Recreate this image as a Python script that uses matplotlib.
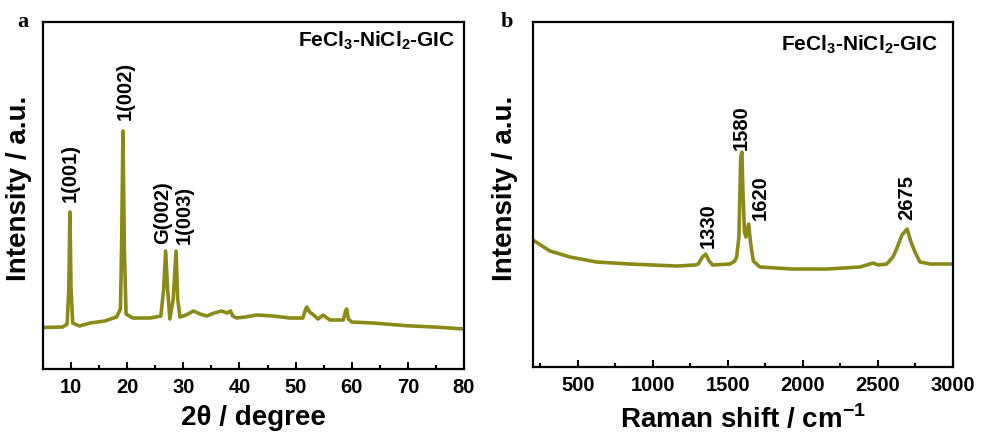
import numpy as np
import matplotlib
matplotlib.use("Agg")
import matplotlib.pyplot as plt
from matplotlib.ticker import MultipleLocator, NullLocator

# XRD pattern (panel a), a.u.
xrd_2theta = [5.0, 8.5, 9.3, 9.6, 9.8, 10.0, 10.3, 11.5, 13.4, 16.0, 18.1, 18.8, 19.0, 19.25,
              19.5, 19.8, 21.0, 24.1, 26.0, 26.5, 26.85, 27.2, 27.6, 28.2, 28.7, 29.0, 29.4,
              30.5, 31.8, 33.0, 34.2, 35.5, 36.8, 37.8, 38.4, 38.8, 39.5, 41.0, 43.1, 46.0,
              49.0, 51.3, 51.8, 52.0, 52.5, 53.0, 54.0, 54.9, 56.1, 58.5, 58.9, 59.1, 59.4,
              60.0, 63.8, 69.8, 75.7, 80.0]
xrd_int = [41.5, 42, 45, 80, 157, 80, 46, 43, 46, 48, 52, 60, 120, 238,
           120, 55, 51, 51, 53, 80, 118, 80, 50, 70, 118, 70, 52,
           54, 58, 55, 53, 56, 58, 56, 58, 53, 51, 52, 54, 53,
           51, 51, 60, 62, 57, 55, 50, 54, 49, 49, 58, 60, 50,
           47, 46, 43.3, 41.7, 40]
xrd_labels = ["1(001)", "1(002)", "G(002)", "1(003)"]

# Raman spectrum (panel b), a.u.
raman_shift = [200, 313, 447, 624, 847, 1158, 1280, 1302, 1330, 1351, 1375, 1398, 1513,
               1545, 1558, 1573, 1585, 1593, 1600, 1610, 1620, 1638, 1650, 1669, 1713,
               1933, 2157, 2380, 2469, 2500, 2558, 2600, 2624, 2660, 2695, 2720, 2747,
               2780, 2850, 3000]
raman_int = [127, 116, 110, 105, 103, 101, 102, 103, 110, 113, 106, 102, 103,
             106, 110, 130, 210, 215, 175, 135, 130, 143, 125, 106, 100,
             98, 98, 100, 104, 102, 103, 110, 118, 132, 138, 125, 115,
             105, 103, 103]
raman_labels = ["1330", "1580", "1620", "2675"]

sample = r"FeCl$_\mathbf{3}$-NiCl$_\mathbf{2}$-GIC"
colour = "#8b8a18"

plt.rcParams["font.family"] = ["Liberation Sans", "DejaVu Sans"]
plt.rcParams["font.weight"] = "bold"
plt.rcParams["mathtext.fontset"] = "custom"
plt.rcParams["mathtext.rm"] = "Liberation Sans:bold"
plt.rcParams["mathtext.bf"] = "Liberation Sans:bold"

fig = plt.figure(figsize=(9.81, 4.35), dpi=100)
ax1 = fig.add_axes([0.0438, 0.1494, 0.4292, 0.7977])
ax2 = fig.add_axes([0.5433, 0.1540, 0.4281, 0.7930])


def style_axis(ax):
    for sp in ax.spines.values():
        sp.set_linewidth(1.6)
    ax.yaxis.set_major_locator(NullLocator())
    ax.tick_params(axis="x", which="both", direction="in", width=1.5, labelsize=14.5, pad=6)
    ax.tick_params(axis="x", which="major", length=5)
    ax.tick_params(axis="x", which="minor", length=3)
    for lab in ax.get_xticklabels():
        lab.set_fontweight("bold")


# panel a
ax1.plot(xrd_2theta, xrd_int, color=colour, linewidth=2.6)
ax1.set_xlim(5, 80)
ax1.set_ylim(0, 347)
ax1.xaxis.set_major_locator(MultipleLocator(10))
ax1.xaxis.set_minor_locator(MultipleLocator(5))
style_axis(ax1)
ax1.set_xlabel("2θ / degree", fontsize=20, fontweight="bold")
ax1.set_ylabel("Intensity / a.u.", fontsize=20, fontweight="bold")
ax1.xaxis.set_label_coords(0.5, -0.10)
ax1.yaxis.set_label_coords(-0.026, 0.524)
ax1.text(0.979, 0.949, sample, transform=ax1.transAxes, ha="right", va="center",
         fontsize=15, fontweight="bold")
for lab, x, y in zip(xrd_labels, [9.8, 19.6, 26.3, 30.1], [168, 250, 126, 126]):
    ax1.text(x, y, lab, rotation=90, ha="center", va="bottom", fontsize=14.5, fontweight="bold")

# panel b
ax2.plot(raman_shift, raman_int, color=colour, linewidth=2.6)
ax2.set_xlim(200, 3000)
ax2.set_ylim(0, 345)
ax2.xaxis.set_major_locator(MultipleLocator(500))
ax2.xaxis.set_minor_locator(MultipleLocator(250))
style_axis(ax2)
ax2.set_xlabel("Raman shift / cm$^{-1}$", fontsize=20, fontweight="bold")
ax2.set_ylabel("Intensity / a.u.", fontsize=20, fontweight="bold")
ax2.xaxis.set_label_coords(0.5, -0.105)
ax2.yaxis.set_label_coords(-0.036, 0.522)
ax2.text(0.964, 0.936, sample, transform=ax2.transAxes, ha="right", va="center",
         fontsize=15, fontweight="bold")
for lab, x, y in zip(raman_labels, [1369, 1591, 1713, 2691], [120, 218, 148, 148]):
    ax2.text(x, y, lab, rotation=90, ha="center", va="bottom", fontsize=14.5, fontweight="bold")

fig.text(23 / 981, 1 - 22 / 435, "a", family="Liberation Serif", fontsize=16,
         fontweight="bold", ha="center", va="center")
fig.text(507 / 981, 1 - 22 / 435, "b", family="Liberation Serif", fontsize=16,
         fontweight="bold", ha="center", va="center")

fig.savefig("out.png", dpi=100)
